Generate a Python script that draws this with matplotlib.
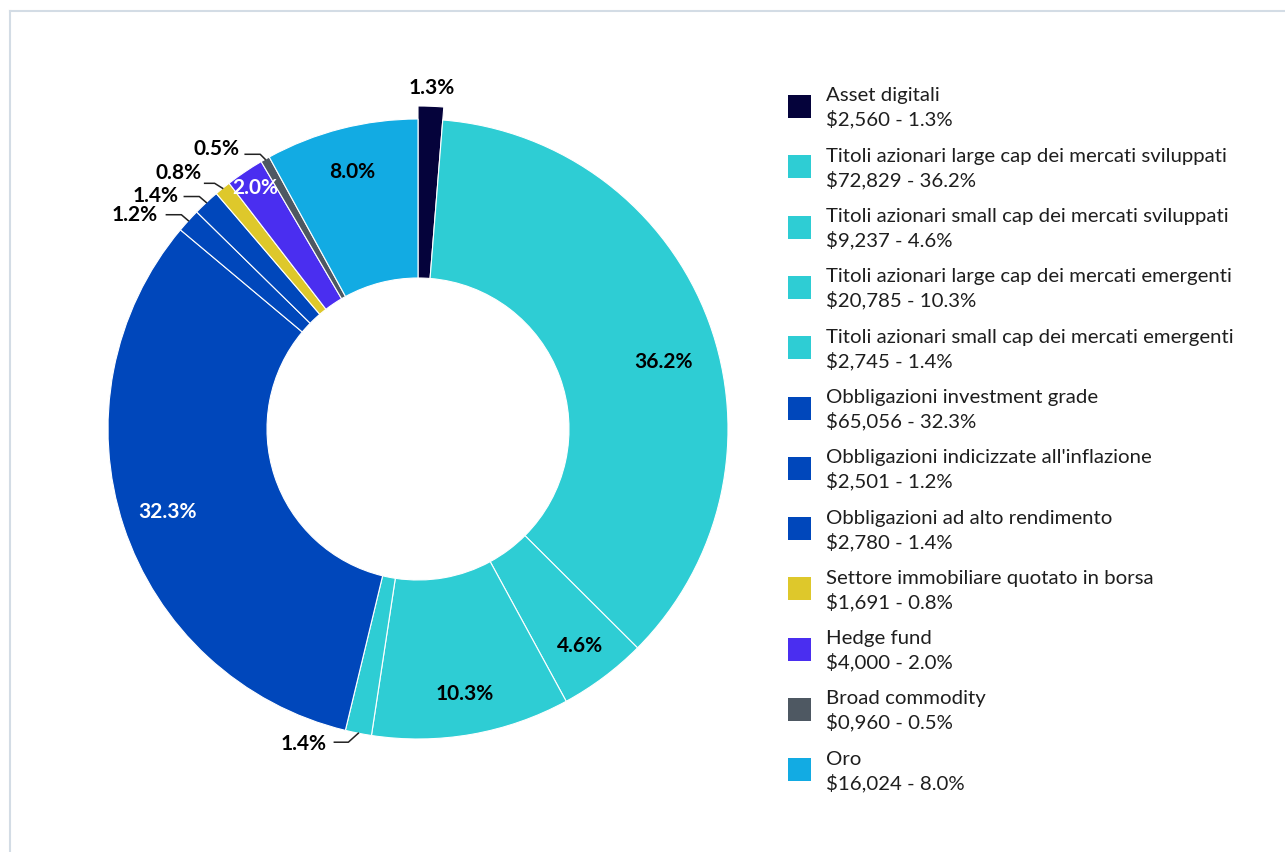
import matplotlib
matplotlib.use("Agg")
import matplotlib.pyplot as plt
from matplotlib.patches import Rectangle
from matplotlib.lines import Line2D
import numpy as np

# ---------------- data ----------------
categories = [
    "Asset digitali",
    "Titoli azionari large cap dei mercati sviluppati",
    "Titoli azionari small cap dei mercati sviluppati",
    "Titoli azionari large cap dei mercati emergenti",
    "Titoli azionari small cap dei mercati emergenti",
    "Obbligazioni investment grade",
    "Obbligazioni indicizzate all'inflazione",
    "Obbligazioni ad alto rendimento",
    "Settore immobiliare quotato in borsa",
    "Hedge fund",
    "Broad commodity",
    "Oro",
]
amounts = [2560, 72829, 9237, 20785, 2745, 65056, 2501, 2780, 1691, 4000, 960, 16024]
colors = ["#05033b", "#2ecdd4", "#2ecdd4", "#2ecdd4", "#2ecdd4", "#0047bb",
          "#0047bb", "#0047bb", "#dec82b", "#4a2ef0", "#4e5862", "#12abe3"]

FONT = ["Lato", "DejaVu Sans"]
plt.rcParams["font.family"] = FONT

total = sum(amounts)
pcts = [round(a / total * 100, 1) for a in amounts]

W, H = 1285, 853
fig = plt.figure(figsize=(W / 100, H / 100), dpi=100)
ax = fig.add_axes([0, 0, 1, 1])

CX, CY = 418, H - 430
R_OUT, R_IN = 310, 151

wedges, _ = ax.pie(amounts, colors=colors, startangle=90, counterclock=False,
                   radius=R_OUT, center=(CX, CY),
                   wedgeprops=dict(width=R_OUT - R_IN, edgecolor="white", linewidth=0.8))
# emphasised first slice (larger outer radius)
wedges[0].set_radius(R_OUT + 13)
wedges[0].set_width(R_OUT + 13 - R_IN)

ax.set_xlim(0, W)
ax.set_ylim(0, H)
ax.axis("off")

# ---------------- slice labels ----------------
# index: (colour, radius fraction, angle shift in degrees)
inside = {1: ("black", 0.82, -4.8), 2: ("black", 0.87, 0), 3: ("black", 0.865, 0),
          5: ("white", 0.85, 0), 9: ("white", 0.94, 0), 11: ("black", 0.86, 0)}
lab_fs = 15


def mid_angle(w):
    return np.deg2rad((w.theta1 + w.theta2) / 2)


for i, w in enumerate(wedges):
    txt = f"{pcts[i]:.1f}%"
    if i in inside:
        col, rf, shift = inside[i]
        a = mid_angle(w) + np.deg2rad(shift)
        ax.text(CX + rf * R_OUT * np.cos(a), CY + rf * R_OUT * np.sin(a), txt,
                ha="center", va="center", fontsize=lab_fs, fontweight="bold", color=col)

# outside label for first slice
a0 = mid_angle(wedges[0])
ax.text(CX + 1.105 * R_OUT * np.cos(a0), CY + 1.105 * R_OUT * np.sin(a0),
        f"{pcts[0]:.1f}%", ha="center", va="center", fontsize=lab_fs,
        fontweight="bold", color="black")

# connector labels: (elbow dx, dy), horizontal length, text (dx, dy) relative to anchor [px]
connectors = {
    10: ((-5, 5), 15, (-26, 11)),
    8: ((-8, 5), 10, (-21, 16)),
    7: ((-7, 6), 15, (-28, 7.5)),
    6: ((-7, 6), 15, (-31, 6.5)),
    4: ((-10, -9), 14, (-32, -10)),
}
for i, (elb, hl, tpos) in connectors.items():
    a = mid_angle(wedges[i])
    axp, ayp = CX + R_OUT * np.cos(a), CY + R_OUT * np.sin(a)
    ex, ey = axp + elb[0], ayp + elb[1]
    ax.add_line(Line2D([axp, ex, ex - hl], [ayp, ey, ey], color="#222222", lw=1.1))
    ax.text(axp + tpos[0], ayp + tpos[1], f"{pcts[i]:.1f}%", ha="right", va="center",
            fontsize=lab_fs, fontweight="bold", color="black")

# ---------------- legend ----------------
leg_x_sq, leg_sq = 788, 23
leg_x_txt = 826
leg_y0 = H - 107.5
leg_step = 60.3
leg_fs = 14.7
for i, name in enumerate(categories):
    yc = leg_y0 - i * leg_step
    ax.add_patch(Rectangle((leg_x_sq, yc - leg_sq / 2), leg_sq, leg_sq,
                           facecolor=colors[i], edgecolor="none"))
    amt = amounts[i]
    amt_s = f"${amt // 1000},{amt % 1000:03d}"
    ax.text(leg_x_txt, yc + 11.5, name, ha="left", va="center", fontsize=leg_fs, color="#1e1e1e")
    ax.text(leg_x_txt, yc - 12, f"{amt_s} - {pcts[i]:.1f}%", ha="left", va="center",
            fontsize=leg_fs, color="#1e1e1e")

# ---------------- border ----------------
ax.add_line(Line2D([10, W], [H - 12, H - 12], color="#d3dce5", lw=1.5))
ax.add_line(Line2D([10, 10], [0, H - 12], color="#d3dce5", lw=1.5))

fig.savefig("out.png", dpi=100)
